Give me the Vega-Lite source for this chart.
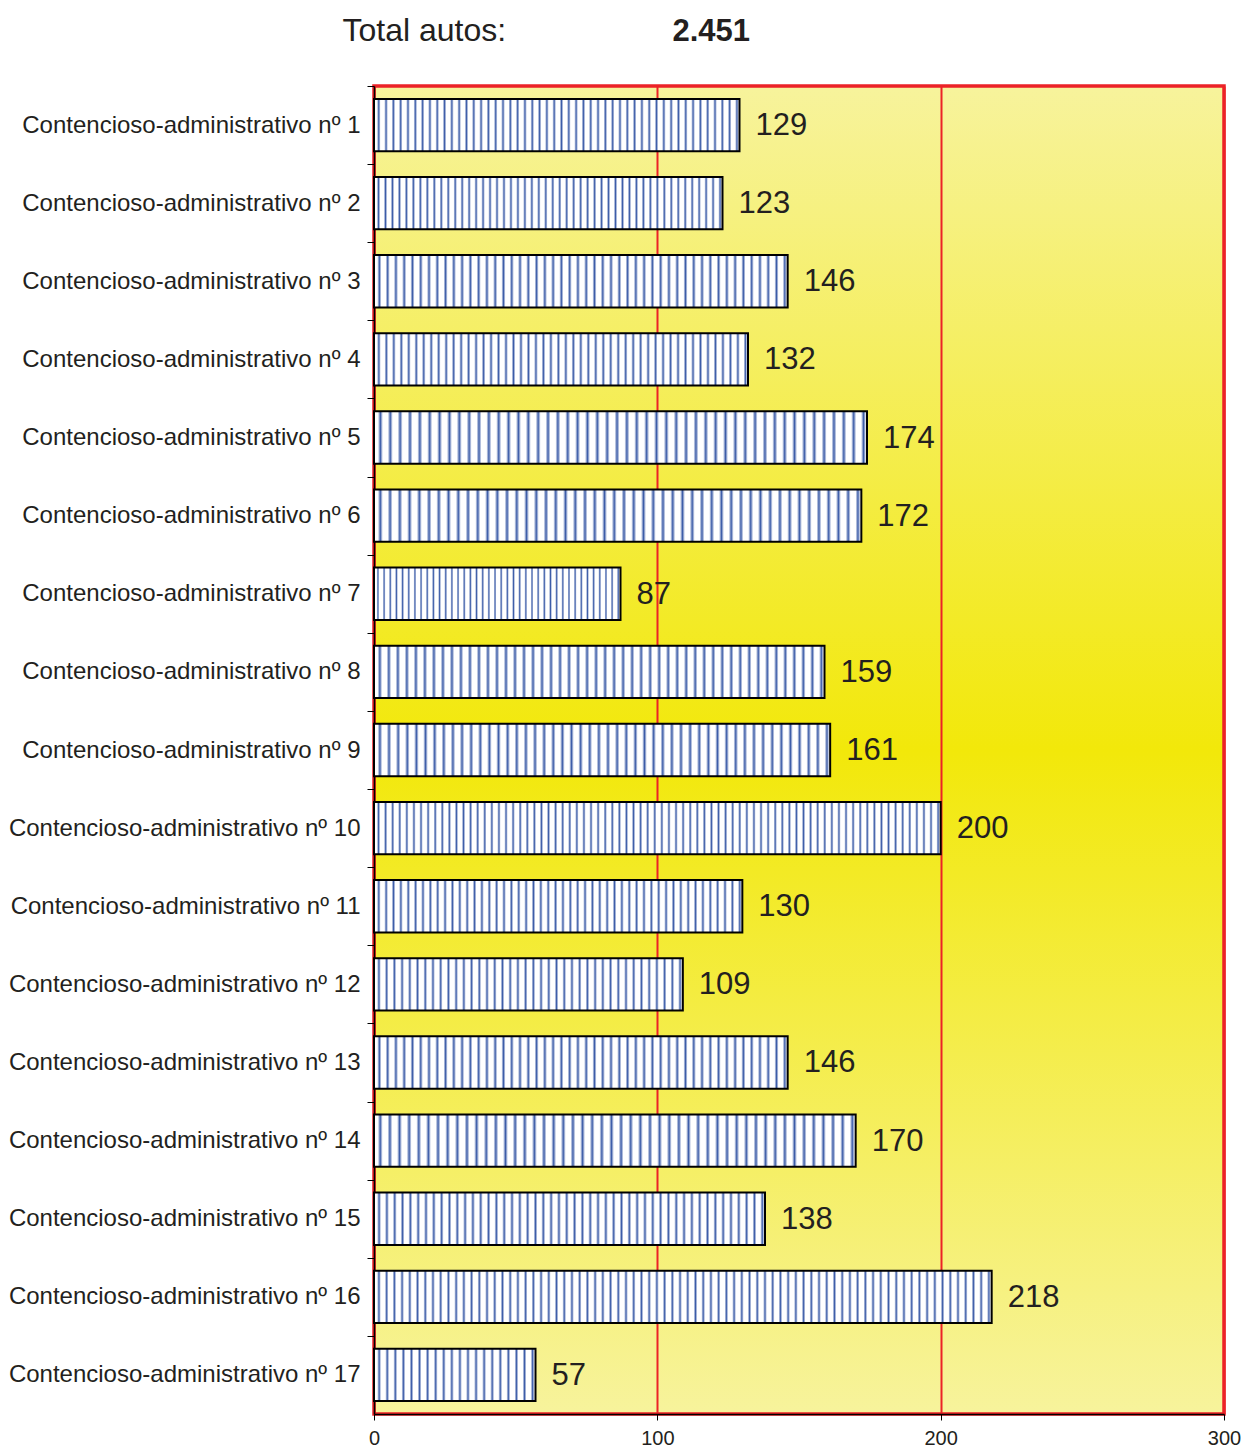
{
  "$schema": "https://vega.github.io/schema/vega-lite/v6.json",
  "width": 850,
  "height": 1328,
  "autosize": {"type": "none"},
  "padding": {"left": 374, "top": 86, "right": 21, "bottom": 34},
  "background": "white",
  "data": {
    "values": [
      {"juzgado": "Contencioso-administrativo nº 1", "autos": 129},
      {"juzgado": "Contencioso-administrativo nº 2", "autos": 123},
      {"juzgado": "Contencioso-administrativo nº 3", "autos": 146},
      {"juzgado": "Contencioso-administrativo nº 4", "autos": 132},
      {"juzgado": "Contencioso-administrativo nº 5", "autos": 174},
      {"juzgado": "Contencioso-administrativo nº 6", "autos": 172},
      {"juzgado": "Contencioso-administrativo nº 7", "autos": 87},
      {"juzgado": "Contencioso-administrativo nº 8", "autos": 159},
      {"juzgado": "Contencioso-administrativo nº 9", "autos": 161},
      {"juzgado": "Contencioso-administrativo nº 10", "autos": 200},
      {"juzgado": "Contencioso-administrativo nº 11", "autos": 130},
      {"juzgado": "Contencioso-administrativo nº 12", "autos": 109},
      {"juzgado": "Contencioso-administrativo nº 13", "autos": 146},
      {"juzgado": "Contencioso-administrativo nº 14", "autos": 170},
      {"juzgado": "Contencioso-administrativo nº 15", "autos": 138},
      {"juzgado": "Contencioso-administrativo nº 16", "autos": 218},
      {"juzgado": "Contencioso-administrativo nº 17", "autos": 57}
    ]
  },
  "encoding": {
    "y": {
      "field": "juzgado",
      "type": "nominal",
      "sort": null,
      "scale": {
        "domain": [
          "Contencioso-administrativo nº 1", "Contencioso-administrativo nº 2", "Contencioso-administrativo nº 3",
          "Contencioso-administrativo nº 4", "Contencioso-administrativo nº 5", "Contencioso-administrativo nº 6",
          "Contencioso-administrativo nº 7", "Contencioso-administrativo nº 8", "Contencioso-administrativo nº 9",
          "Contencioso-administrativo nº 10", "Contencioso-administrativo nº 11", "Contencioso-administrativo nº 12",
          "Contencioso-administrativo nº 13", "Contencioso-administrativo nº 14", "Contencioso-administrativo nº 15",
          "Contencioso-administrativo nº 16", "Contencioso-administrativo nº 17"
        ],
        "paddingInner": 0.33,
        "paddingOuter": 0.165
      },
      "axis": {
        "title": "Total autos:",
        "titleAngle": 0,
        "titleX": -32,
        "titleY": -46,
        "titleAlign": "left",
        "titleBaseline": "alphabetic",
        "titleFontSize": 32,
        "titleFontWeight": "normal",
        "titleColor": "#231F20",
        "labelFontSize": 24,
        "labelColor": "#231F20",
        "labelPadding": 7,
        "labelLimit": 400,
        "tickSize": 7,
        "tickColor": "black",
        "tickWidth": 1,
        "tickOffset": -39.06,
        "labelOffset": 39.06,
        "domainColor": "black",
        "domainWidth": 1.5,
        "grid": false
      }
    }
  },
  "layer": [
    {
      "transform": [{"filter": "datum.autos < 80"}],
      "mark": {
        "type": "bar",
        "stroke": "black",
        "strokeWidth": 2,
        "fill": {
          "gradient": "linear",
          "x1": 0, "y1": 0, "x2": 1, "y2": 0,
          "stops": [
            {"offset": 0.020, "color": "#fff"}, {"offset": 0.032, "color": "#3c5ca8"}, {"offset": 0.044, "color": "#fff"},
            {"offset": 0.070, "color": "#fff"}, {"offset": 0.082, "color": "#3c5ca8"}, {"offset": 0.094, "color": "#fff"},
            {"offset": 0.120, "color": "#fff"}, {"offset": 0.132, "color": "#3c5ca8"}, {"offset": 0.144, "color": "#fff"},
            {"offset": 0.170, "color": "#fff"}, {"offset": 0.182, "color": "#3c5ca8"}, {"offset": 0.194, "color": "#fff"},
            {"offset": 0.220, "color": "#fff"}, {"offset": 0.232, "color": "#3c5ca8"}, {"offset": 0.244, "color": "#fff"},
            {"offset": 0.270, "color": "#fff"}, {"offset": 0.282, "color": "#3c5ca8"}, {"offset": 0.294, "color": "#fff"},
            {"offset": 0.320, "color": "#fff"}, {"offset": 0.332, "color": "#3c5ca8"}, {"offset": 0.344, "color": "#fff"},
            {"offset": 0.370, "color": "#fff"}, {"offset": 0.382, "color": "#3c5ca8"}, {"offset": 0.394, "color": "#fff"},
            {"offset": 0.420, "color": "#fff"}, {"offset": 0.432, "color": "#3c5ca8"}, {"offset": 0.444, "color": "#fff"},
            {"offset": 0.470, "color": "#fff"}, {"offset": 0.482, "color": "#3c5ca8"}, {"offset": 0.494, "color": "#fff"},
            {"offset": 0.520, "color": "#fff"}, {"offset": 0.532, "color": "#3c5ca8"}, {"offset": 0.544, "color": "#fff"},
            {"offset": 0.570, "color": "#fff"}, {"offset": 0.582, "color": "#3c5ca8"}, {"offset": 0.594, "color": "#fff"},
            {"offset": 0.620, "color": "#fff"}, {"offset": 0.632, "color": "#3c5ca8"}, {"offset": 0.644, "color": "#fff"},
            {"offset": 0.670, "color": "#fff"}, {"offset": 0.682, "color": "#3c5ca8"}, {"offset": 0.694, "color": "#fff"},
            {"offset": 0.720, "color": "#fff"}, {"offset": 0.732, "color": "#3c5ca8"}, {"offset": 0.744, "color": "#fff"},
            {"offset": 0.770, "color": "#fff"}, {"offset": 0.782, "color": "#3c5ca8"}, {"offset": 0.794, "color": "#fff"},
            {"offset": 0.820, "color": "#fff"}, {"offset": 0.832, "color": "#3c5ca8"}, {"offset": 0.844, "color": "#fff"},
            {"offset": 0.870, "color": "#fff"}, {"offset": 0.882, "color": "#3c5ca8"}, {"offset": 0.894, "color": "#fff"},
            {"offset": 0.920, "color": "#fff"}, {"offset": 0.932, "color": "#3c5ca8"}, {"offset": 0.944, "color": "#fff"},
            {"offset": 0.970, "color": "#fff"}, {"offset": 0.982, "color": "#3c5ca8"}, {"offset": 0.994, "color": "#fff"}
          ]
        }
      },
      "encoding": {
        "x": {
          "field": "autos",
          "type": "quantitative",
          "scale": {"domain": [0, 300], "nice": false, "zero": true},
          "axis": {
            "orient": "bottom",
            "title": null,
            "values": [0, 100, 200, 300],
            "grid": true,
            "gridColor": "#EC2227",
            "gridWidth": 2,
            "domainColor": "black",
            "domainWidth": 1.5,
            "tickColor": "black",
            "tickSize": 6,
            "tickWidth": 1,
            "labelFontSize": 20,
            "labelColor": "#231F20",
            "labelPadding": 8,
            "labelFlush": false
          }
        }
      }
    },
    {
      "transform": [{"filter": "datum.autos >= 80 && datum.autos < 120"}],
      "mark": {
        "type": "bar",
        "stroke": "black",
        "strokeWidth": 2,
        "fill": {
          "gradient": "linear",
          "x1": 0, "y1": 0, "x2": 1, "y2": 0,
          "stops": [
            {"offset": 0.010, "color": "#fff"}, {"offset": 0.016, "color": "#3c5ca8"}, {"offset": 0.022, "color": "#fff"},
            {"offset": 0.035, "color": "#fff"}, {"offset": 0.041, "color": "#3c5ca8"}, {"offset": 0.047, "color": "#fff"},
            {"offset": 0.060, "color": "#fff"}, {"offset": 0.066, "color": "#3c5ca8"}, {"offset": 0.072, "color": "#fff"},
            {"offset": 0.085, "color": "#fff"}, {"offset": 0.091, "color": "#3c5ca8"}, {"offset": 0.097, "color": "#fff"},
            {"offset": 0.110, "color": "#fff"}, {"offset": 0.116, "color": "#3c5ca8"}, {"offset": 0.122, "color": "#fff"},
            {"offset": 0.135, "color": "#fff"}, {"offset": 0.141, "color": "#3c5ca8"}, {"offset": 0.147, "color": "#fff"},
            {"offset": 0.160, "color": "#fff"}, {"offset": 0.166, "color": "#3c5ca8"}, {"offset": 0.172, "color": "#fff"},
            {"offset": 0.185, "color": "#fff"}, {"offset": 0.191, "color": "#3c5ca8"}, {"offset": 0.197, "color": "#fff"},
            {"offset": 0.210, "color": "#fff"}, {"offset": 0.216, "color": "#3c5ca8"}, {"offset": 0.222, "color": "#fff"},
            {"offset": 0.235, "color": "#fff"}, {"offset": 0.241, "color": "#3c5ca8"}, {"offset": 0.247, "color": "#fff"},
            {"offset": 0.260, "color": "#fff"}, {"offset": 0.266, "color": "#3c5ca8"}, {"offset": 0.272, "color": "#fff"},
            {"offset": 0.285, "color": "#fff"}, {"offset": 0.291, "color": "#3c5ca8"}, {"offset": 0.297, "color": "#fff"},
            {"offset": 0.310, "color": "#fff"}, {"offset": 0.316, "color": "#3c5ca8"}, {"offset": 0.322, "color": "#fff"},
            {"offset": 0.335, "color": "#fff"}, {"offset": 0.341, "color": "#3c5ca8"}, {"offset": 0.347, "color": "#fff"},
            {"offset": 0.360, "color": "#fff"}, {"offset": 0.366, "color": "#3c5ca8"}, {"offset": 0.372, "color": "#fff"},
            {"offset": 0.385, "color": "#fff"}, {"offset": 0.391, "color": "#3c5ca8"}, {"offset": 0.397, "color": "#fff"},
            {"offset": 0.410, "color": "#fff"}, {"offset": 0.416, "color": "#3c5ca8"}, {"offset": 0.422, "color": "#fff"},
            {"offset": 0.435, "color": "#fff"}, {"offset": 0.441, "color": "#3c5ca8"}, {"offset": 0.447, "color": "#fff"},
            {"offset": 0.460, "color": "#fff"}, {"offset": 0.466, "color": "#3c5ca8"}, {"offset": 0.472, "color": "#fff"},
            {"offset": 0.485, "color": "#fff"}, {"offset": 0.491, "color": "#3c5ca8"}, {"offset": 0.497, "color": "#fff"},
            {"offset": 0.510, "color": "#fff"}, {"offset": 0.516, "color": "#3c5ca8"}, {"offset": 0.522, "color": "#fff"},
            {"offset": 0.535, "color": "#fff"}, {"offset": 0.541, "color": "#3c5ca8"}, {"offset": 0.547, "color": "#fff"},
            {"offset": 0.560, "color": "#fff"}, {"offset": 0.566, "color": "#3c5ca8"}, {"offset": 0.572, "color": "#fff"},
            {"offset": 0.585, "color": "#fff"}, {"offset": 0.591, "color": "#3c5ca8"}, {"offset": 0.597, "color": "#fff"},
            {"offset": 0.610, "color": "#fff"}, {"offset": 0.616, "color": "#3c5ca8"}, {"offset": 0.622, "color": "#fff"},
            {"offset": 0.635, "color": "#fff"}, {"offset": 0.641, "color": "#3c5ca8"}, {"offset": 0.647, "color": "#fff"},
            {"offset": 0.660, "color": "#fff"}, {"offset": 0.666, "color": "#3c5ca8"}, {"offset": 0.672, "color": "#fff"},
            {"offset": 0.685, "color": "#fff"}, {"offset": 0.691, "color": "#3c5ca8"}, {"offset": 0.697, "color": "#fff"},
            {"offset": 0.710, "color": "#fff"}, {"offset": 0.716, "color": "#3c5ca8"}, {"offset": 0.722, "color": "#fff"},
            {"offset": 0.735, "color": "#fff"}, {"offset": 0.741, "color": "#3c5ca8"}, {"offset": 0.747, "color": "#fff"},
            {"offset": 0.760, "color": "#fff"}, {"offset": 0.766, "color": "#3c5ca8"}, {"offset": 0.772, "color": "#fff"},
            {"offset": 0.785, "color": "#fff"}, {"offset": 0.791, "color": "#3c5ca8"}, {"offset": 0.797, "color": "#fff"},
            {"offset": 0.810, "color": "#fff"}, {"offset": 0.816, "color": "#3c5ca8"}, {"offset": 0.822, "color": "#fff"},
            {"offset": 0.835, "color": "#fff"}, {"offset": 0.841, "color": "#3c5ca8"}, {"offset": 0.847, "color": "#fff"},
            {"offset": 0.860, "color": "#fff"}, {"offset": 0.866, "color": "#3c5ca8"}, {"offset": 0.872, "color": "#fff"},
            {"offset": 0.885, "color": "#fff"}, {"offset": 0.891, "color": "#3c5ca8"}, {"offset": 0.897, "color": "#fff"},
            {"offset": 0.910, "color": "#fff"}, {"offset": 0.916, "color": "#3c5ca8"}, {"offset": 0.922, "color": "#fff"},
            {"offset": 0.935, "color": "#fff"}, {"offset": 0.941, "color": "#3c5ca8"}, {"offset": 0.947, "color": "#fff"},
            {"offset": 0.960, "color": "#fff"}, {"offset": 0.966, "color": "#3c5ca8"}, {"offset": 0.972, "color": "#fff"},
            {"offset": 0.985, "color": "#fff"}, {"offset": 0.991, "color": "#3c5ca8"}, {"offset": 0.997, "color": "#fff"}
          ]
        }
      },
      "encoding": {
        "x": {
          "field": "autos",
          "type": "quantitative",
          "scale": {"domain": [0, 300], "nice": false, "zero": true},
          "axis": null
        }
      }
    },
    {
      "transform": [{"filter": "datum.autos >= 120 && datum.autos < 185"}],
      "mark": {
        "type": "bar",
        "stroke": "black",
        "strokeWidth": 2,
        "fill": {
          "gradient": "linear",
          "x1": 0, "y1": 0, "x2": 1, "y2": 0,
          "stops": [
            {"offset": 0.008, "color": "#fff"}, {"offset": 0.013, "color": "#3c5ca8"}, {"offset": 0.018, "color": "#fff"},
            {"offset": 0.028, "color": "#fff"}, {"offset": 0.033, "color": "#3c5ca8"}, {"offset": 0.038, "color": "#fff"},
            {"offset": 0.048, "color": "#fff"}, {"offset": 0.053, "color": "#3c5ca8"}, {"offset": 0.058, "color": "#fff"},
            {"offset": 0.068, "color": "#fff"}, {"offset": 0.073, "color": "#3c5ca8"}, {"offset": 0.078, "color": "#fff"},
            {"offset": 0.088, "color": "#fff"}, {"offset": 0.093, "color": "#3c5ca8"}, {"offset": 0.098, "color": "#fff"},
            {"offset": 0.108, "color": "#fff"}, {"offset": 0.113, "color": "#3c5ca8"}, {"offset": 0.118, "color": "#fff"},
            {"offset": 0.128, "color": "#fff"}, {"offset": 0.133, "color": "#3c5ca8"}, {"offset": 0.138, "color": "#fff"},
            {"offset": 0.148, "color": "#fff"}, {"offset": 0.153, "color": "#3c5ca8"}, {"offset": 0.158, "color": "#fff"},
            {"offset": 0.168, "color": "#fff"}, {"offset": 0.173, "color": "#3c5ca8"}, {"offset": 0.178, "color": "#fff"},
            {"offset": 0.188, "color": "#fff"}, {"offset": 0.193, "color": "#3c5ca8"}, {"offset": 0.198, "color": "#fff"},
            {"offset": 0.208, "color": "#fff"}, {"offset": 0.213, "color": "#3c5ca8"}, {"offset": 0.218, "color": "#fff"},
            {"offset": 0.228, "color": "#fff"}, {"offset": 0.233, "color": "#3c5ca8"}, {"offset": 0.238, "color": "#fff"},
            {"offset": 0.248, "color": "#fff"}, {"offset": 0.253, "color": "#3c5ca8"}, {"offset": 0.258, "color": "#fff"},
            {"offset": 0.268, "color": "#fff"}, {"offset": 0.273, "color": "#3c5ca8"}, {"offset": 0.278, "color": "#fff"},
            {"offset": 0.288, "color": "#fff"}, {"offset": 0.293, "color": "#3c5ca8"}, {"offset": 0.298, "color": "#fff"},
            {"offset": 0.308, "color": "#fff"}, {"offset": 0.313, "color": "#3c5ca8"}, {"offset": 0.318, "color": "#fff"},
            {"offset": 0.328, "color": "#fff"}, {"offset": 0.333, "color": "#3c5ca8"}, {"offset": 0.338, "color": "#fff"},
            {"offset": 0.348, "color": "#fff"}, {"offset": 0.353, "color": "#3c5ca8"}, {"offset": 0.358, "color": "#fff"},
            {"offset": 0.368, "color": "#fff"}, {"offset": 0.373, "color": "#3c5ca8"}, {"offset": 0.378, "color": "#fff"},
            {"offset": 0.388, "color": "#fff"}, {"offset": 0.393, "color": "#3c5ca8"}, {"offset": 0.398, "color": "#fff"},
            {"offset": 0.408, "color": "#fff"}, {"offset": 0.413, "color": "#3c5ca8"}, {"offset": 0.418, "color": "#fff"},
            {"offset": 0.428, "color": "#fff"}, {"offset": 0.433, "color": "#3c5ca8"}, {"offset": 0.438, "color": "#fff"},
            {"offset": 0.448, "color": "#fff"}, {"offset": 0.453, "color": "#3c5ca8"}, {"offset": 0.458, "color": "#fff"},
            {"offset": 0.468, "color": "#fff"}, {"offset": 0.473, "color": "#3c5ca8"}, {"offset": 0.478, "color": "#fff"},
            {"offset": 0.488, "color": "#fff"}, {"offset": 0.493, "color": "#3c5ca8"}, {"offset": 0.498, "color": "#fff"},
            {"offset": 0.508, "color": "#fff"}, {"offset": 0.513, "color": "#3c5ca8"}, {"offset": 0.518, "color": "#fff"},
            {"offset": 0.528, "color": "#fff"}, {"offset": 0.533, "color": "#3c5ca8"}, {"offset": 0.538, "color": "#fff"},
            {"offset": 0.548, "color": "#fff"}, {"offset": 0.553, "color": "#3c5ca8"}, {"offset": 0.558, "color": "#fff"},
            {"offset": 0.568, "color": "#fff"}, {"offset": 0.573, "color": "#3c5ca8"}, {"offset": 0.578, "color": "#fff"},
            {"offset": 0.588, "color": "#fff"}, {"offset": 0.593, "color": "#3c5ca8"}, {"offset": 0.598, "color": "#fff"},
            {"offset": 0.608, "color": "#fff"}, {"offset": 0.613, "color": "#3c5ca8"}, {"offset": 0.618, "color": "#fff"},
            {"offset": 0.628, "color": "#fff"}, {"offset": 0.633, "color": "#3c5ca8"}, {"offset": 0.638, "color": "#fff"},
            {"offset": 0.648, "color": "#fff"}, {"offset": 0.653, "color": "#3c5ca8"}, {"offset": 0.658, "color": "#fff"},
            {"offset": 0.668, "color": "#fff"}, {"offset": 0.673, "color": "#3c5ca8"}, {"offset": 0.678, "color": "#fff"},
            {"offset": 0.688, "color": "#fff"}, {"offset": 0.693, "color": "#3c5ca8"}, {"offset": 0.698, "color": "#fff"},
            {"offset": 0.708, "color": "#fff"}, {"offset": 0.713, "color": "#3c5ca8"}, {"offset": 0.718, "color": "#fff"},
            {"offset": 0.728, "color": "#fff"}, {"offset": 0.733, "color": "#3c5ca8"}, {"offset": 0.738, "color": "#fff"},
            {"offset": 0.748, "color": "#fff"}, {"offset": 0.753, "color": "#3c5ca8"}, {"offset": 0.758, "color": "#fff"},
            {"offset": 0.768, "color": "#fff"}, {"offset": 0.773, "color": "#3c5ca8"}, {"offset": 0.778, "color": "#fff"},
            {"offset": 0.788, "color": "#fff"}, {"offset": 0.793, "color": "#3c5ca8"}, {"offset": 0.798, "color": "#fff"},
            {"offset": 0.808, "color": "#fff"}, {"offset": 0.813, "color": "#3c5ca8"}, {"offset": 0.818, "color": "#fff"},
            {"offset": 0.828, "color": "#fff"}, {"offset": 0.833, "color": "#3c5ca8"}, {"offset": 0.838, "color": "#fff"},
            {"offset": 0.848, "color": "#fff"}, {"offset": 0.853, "color": "#3c5ca8"}, {"offset": 0.858, "color": "#fff"},
            {"offset": 0.868, "color": "#fff"}, {"offset": 0.873, "color": "#3c5ca8"}, {"offset": 0.878, "color": "#fff"},
            {"offset": 0.888, "color": "#fff"}, {"offset": 0.893, "color": "#3c5ca8"}, {"offset": 0.898, "color": "#fff"},
            {"offset": 0.908, "color": "#fff"}, {"offset": 0.913, "color": "#3c5ca8"}, {"offset": 0.918, "color": "#fff"},
            {"offset": 0.928, "color": "#fff"}, {"offset": 0.933, "color": "#3c5ca8"}, {"offset": 0.938, "color": "#fff"},
            {"offset": 0.948, "color": "#fff"}, {"offset": 0.953, "color": "#3c5ca8"}, {"offset": 0.958, "color": "#fff"},
            {"offset": 0.968, "color": "#fff"}, {"offset": 0.973, "color": "#3c5ca8"}, {"offset": 0.978, "color": "#fff"},
            {"offset": 0.988, "color": "#fff"}, {"offset": 0.993, "color": "#3c5ca8"}, {"offset": 0.998, "color": "#fff"}
          ]
        }
      },
      "encoding": {
        "x": {
          "field": "autos",
          "type": "quantitative",
          "scale": {"domain": [0, 300], "nice": false, "zero": true},
          "axis": null
        }
      }
    },
    {
      "transform": [{"filter": "datum.autos >= 185"}],
      "mark": {
        "type": "bar",
        "stroke": "black",
        "strokeWidth": 2,
        "fill": {
          "gradient": "linear",
          "x1": 0, "y1": 0, "x2": 1, "y2": 0,
          "stops": [
            {"offset": 0.005, "color": "#fff"}, {"offset": 0.008, "color": "#3c5ca8"}, {"offset": 0.011, "color": "#fff"},
            {"offset": 0.0175, "color": "#fff"}, {"offset": 0.0205, "color": "#3c5ca8"}, {"offset": 0.0235, "color": "#fff"},
            {"offset": 0.030, "color": "#fff"}, {"offset": 0.033, "color": "#3c5ca8"}, {"offset": 0.036, "color": "#fff"},
            {"offset": 0.0425, "color": "#fff"}, {"offset": 0.0455, "color": "#3c5ca8"}, {"offset": 0.0485, "color": "#fff"},
            {"offset": 0.055, "color": "#fff"}, {"offset": 0.058, "color": "#3c5ca8"}, {"offset": 0.061, "color": "#fff"},
            {"offset": 0.0675, "color": "#fff"}, {"offset": 0.0705, "color": "#3c5ca8"}, {"offset": 0.0735, "color": "#fff"},
            {"offset": 0.080, "color": "#fff"}, {"offset": 0.083, "color": "#3c5ca8"}, {"offset": 0.086, "color": "#fff"},
            {"offset": 0.0925, "color": "#fff"}, {"offset": 0.0955, "color": "#3c5ca8"}, {"offset": 0.0985, "color": "#fff"},
            {"offset": 0.105, "color": "#fff"}, {"offset": 0.108, "color": "#3c5ca8"}, {"offset": 0.111, "color": "#fff"},
            {"offset": 0.1175, "color": "#fff"}, {"offset": 0.1205, "color": "#3c5ca8"}, {"offset": 0.1235, "color": "#fff"},
            {"offset": 0.130, "color": "#fff"}, {"offset": 0.133, "color": "#3c5ca8"}, {"offset": 0.136, "color": "#fff"},
            {"offset": 0.1425, "color": "#fff"}, {"offset": 0.1455, "color": "#3c5ca8"}, {"offset": 0.1485, "color": "#fff"},
            {"offset": 0.155, "color": "#fff"}, {"offset": 0.158, "color": "#3c5ca8"}, {"offset": 0.161, "color": "#fff"},
            {"offset": 0.1675, "color": "#fff"}, {"offset": 0.1705, "color": "#3c5ca8"}, {"offset": 0.1735, "color": "#fff"},
            {"offset": 0.180, "color": "#fff"}, {"offset": 0.183, "color": "#3c5ca8"}, {"offset": 0.186, "color": "#fff"},
            {"offset": 0.1925, "color": "#fff"}, {"offset": 0.1955, "color": "#3c5ca8"}, {"offset": 0.1985, "color": "#fff"},
            {"offset": 0.205, "color": "#fff"}, {"offset": 0.208, "color": "#3c5ca8"}, {"offset": 0.211, "color": "#fff"},
            {"offset": 0.2175, "color": "#fff"}, {"offset": 0.2205, "color": "#3c5ca8"}, {"offset": 0.2235, "color": "#fff"},
            {"offset": 0.230, "color": "#fff"}, {"offset": 0.233, "color": "#3c5ca8"}, {"offset": 0.236, "color": "#fff"},
            {"offset": 0.2425, "color": "#fff"}, {"offset": 0.2455, "color": "#3c5ca8"}, {"offset": 0.2485, "color": "#fff"},
            {"offset": 0.255, "color": "#fff"}, {"offset": 0.258, "color": "#3c5ca8"}, {"offset": 0.261, "color": "#fff"},
            {"offset": 0.2675, "color": "#fff"}, {"offset": 0.2705, "color": "#3c5ca8"}, {"offset": 0.2735, "color": "#fff"},
            {"offset": 0.280, "color": "#fff"}, {"offset": 0.283, "color": "#3c5ca8"}, {"offset": 0.286, "color": "#fff"},
            {"offset": 0.2925, "color": "#fff"}, {"offset": 0.2955, "color": "#3c5ca8"}, {"offset": 0.2985, "color": "#fff"},
            {"offset": 0.305, "color": "#fff"}, {"offset": 0.308, "color": "#3c5ca8"}, {"offset": 0.311, "color": "#fff"},
            {"offset": 0.3175, "color": "#fff"}, {"offset": 0.3205, "color": "#3c5ca8"}, {"offset": 0.3235, "color": "#fff"},
            {"offset": 0.330, "color": "#fff"}, {"offset": 0.333, "color": "#3c5ca8"}, {"offset": 0.336, "color": "#fff"},
            {"offset": 0.3425, "color": "#fff"}, {"offset": 0.3455, "color": "#3c5ca8"}, {"offset": 0.3485, "color": "#fff"},
            {"offset": 0.355, "color": "#fff"}, {"offset": 0.358, "color": "#3c5ca8"}, {"offset": 0.361, "color": "#fff"},
            {"offset": 0.3675, "color": "#fff"}, {"offset": 0.3705, "color": "#3c5ca8"}, {"offset": 0.3735, "color": "#fff"},
            {"offset": 0.380, "color": "#fff"}, {"offset": 0.383, "color": "#3c5ca8"}, {"offset": 0.386, "color": "#fff"},
            {"offset": 0.3925, "color": "#fff"}, {"offset": 0.3955, "color": "#3c5ca8"}, {"offset": 0.3985, "color": "#fff"},
            {"offset": 0.405, "color": "#fff"}, {"offset": 0.408, "color": "#3c5ca8"}, {"offset": 0.411, "color": "#fff"},
            {"offset": 0.4175, "color": "#fff"}, {"offset": 0.4205, "color": "#3c5ca8"}, {"offset": 0.4235, "color": "#fff"},
            {"offset": 0.430, "color": "#fff"}, {"offset": 0.433, "color": "#3c5ca8"}, {"offset": 0.436, "color": "#fff"},
            {"offset": 0.4425, "color": "#fff"}, {"offset": 0.4455, "color": "#3c5ca8"}, {"offset": 0.4485, "color": "#fff"},
            {"offset": 0.455, "color": "#fff"}, {"offset": 0.458, "color": "#3c5ca8"}, {"offset": 0.461, "color": "#fff"},
            {"offset": 0.4675, "color": "#fff"}, {"offset": 0.4705, "color": "#3c5ca8"}, {"offset": 0.4735, "color": "#fff"},
            {"offset": 0.480, "color": "#fff"}, {"offset": 0.483, "color": "#3c5ca8"}, {"offset": 0.486, "color": "#fff"},
            {"offset": 0.4925, "color": "#fff"}, {"offset": 0.4955, "color": "#3c5ca8"}, {"offset": 0.4985, "color": "#fff"},
            {"offset": 0.505, "color": "#fff"}, {"offset": 0.508, "color": "#3c5ca8"}, {"offset": 0.511, "color": "#fff"},
            {"offset": 0.5175, "color": "#fff"}, {"offset": 0.5205, "color": "#3c5ca8"}, {"offset": 0.5235, "color": "#fff"},
            {"offset": 0.530, "color": "#fff"}, {"offset": 0.533, "color": "#3c5ca8"}, {"offset": 0.536, "color": "#fff"},
            {"offset": 0.5425, "color": "#fff"}, {"offset": 0.5455, "color": "#3c5ca8"}, {"offset": 0.5485, "color": "#fff"},
            {"offset": 0.555, "color": "#fff"}, {"offset": 0.558, "color": "#3c5ca8"}, {"offset": 0.561, "color": "#fff"},
            {"offset": 0.5675, "color": "#fff"}, {"offset": 0.5705, "color": "#3c5ca8"}, {"offset": 0.5735, "color": "#fff"},
            {"offset": 0.580, "color": "#fff"}, {"offset": 0.583, "color": "#3c5ca8"}, {"offset": 0.586, "color": "#fff"},
            {"offset": 0.5925, "color": "#fff"}, {"offset": 0.5955, "color": "#3c5ca8"}, {"offset": 0.5985, "color": "#fff"},
            {"offset": 0.605, "color": "#fff"}, {"offset": 0.608, "color": "#3c5ca8"}, {"offset": 0.611, "color": "#fff"},
            {"offset": 0.6175, "color": "#fff"}, {"offset": 0.6205, "color": "#3c5ca8"}, {"offset": 0.6235, "color": "#fff"},
            {"offset": 0.630, "color": "#fff"}, {"offset": 0.633, "color": "#3c5ca8"}, {"offset": 0.636, "color": "#fff"},
            {"offset": 0.6425, "color": "#fff"}, {"offset": 0.6455, "color": "#3c5ca8"}, {"offset": 0.6485, "color": "#fff"},
            {"offset": 0.655, "color": "#fff"}, {"offset": 0.658, "color": "#3c5ca8"}, {"offset": 0.661, "color": "#fff"},
            {"offset": 0.6675, "color": "#fff"}, {"offset": 0.6705, "color": "#3c5ca8"}, {"offset": 0.6735, "color": "#fff"},
            {"offset": 0.680, "color": "#fff"}, {"offset": 0.683, "color": "#3c5ca8"}, {"offset": 0.686, "color": "#fff"},
            {"offset": 0.6925, "color": "#fff"}, {"offset": 0.6955, "color": "#3c5ca8"}, {"offset": 0.6985, "color": "#fff"},
            {"offset": 0.705, "color": "#fff"}, {"offset": 0.708, "color": "#3c5ca8"}, {"offset": 0.711, "color": "#fff"},
            {"offset": 0.7175, "color": "#fff"}, {"offset": 0.7205, "color": "#3c5ca8"}, {"offset": 0.7235, "color": "#fff"},
            {"offset": 0.730, "color": "#fff"}, {"offset": 0.733, "color": "#3c5ca8"}, {"offset": 0.736, "color": "#fff"},
            {"offset": 0.7425, "color": "#fff"}, {"offset": 0.7455, "color": "#3c5ca8"}, {"offset": 0.7485, "color": "#fff"},
            {"offset": 0.755, "color": "#fff"}, {"offset": 0.758, "color": "#3c5ca8"}, {"offset": 0.761, "color": "#fff"},
            {"offset": 0.7675, "color": "#fff"}, {"offset": 0.7705, "color": "#3c5ca8"}, {"offset": 0.7735, "color": "#fff"},
            {"offset": 0.780, "color": "#fff"}, {"offset": 0.783, "color": "#3c5ca8"}, {"offset": 0.786, "color": "#fff"},
            {"offset": 0.7925, "color": "#fff"}, {"offset": 0.7955, "color": "#3c5ca8"}, {"offset": 0.7985, "color": "#fff"},
            {"offset": 0.805, "color": "#fff"}, {"offset": 0.808, "color": "#3c5ca8"}, {"offset": 0.811, "color": "#fff"},
            {"offset": 0.8175, "color": "#fff"}, {"offset": 0.8205, "color": "#3c5ca8"}, {"offset": 0.8235, "color": "#fff"},
            {"offset": 0.830, "color": "#fff"}, {"offset": 0.833, "color": "#3c5ca8"}, {"offset": 0.836, "color": "#fff"},
            {"offset": 0.8425, "color": "#fff"}, {"offset": 0.8455, "color": "#3c5ca8"}, {"offset": 0.8485, "color": "#fff"},
            {"offset": 0.855, "color": "#fff"}, {"offset": 0.858, "color": "#3c5ca8"}, {"offset": 0.861, "color": "#fff"},
            {"offset": 0.8675, "color": "#fff"}, {"offset": 0.8705, "color": "#3c5ca8"}, {"offset": 0.8735, "color": "#fff"},
            {"offset": 0.880, "color": "#fff"}, {"offset": 0.883, "color": "#3c5ca8"}, {"offset": 0.886, "color": "#fff"},
            {"offset": 0.8925, "color": "#fff"}, {"offset": 0.8955, "color": "#3c5ca8"}, {"offset": 0.8985, "color": "#fff"},
            {"offset": 0.905, "color": "#fff"}, {"offset": 0.908, "color": "#3c5ca8"}, {"offset": 0.911, "color": "#fff"},
            {"offset": 0.9175, "color": "#fff"}, {"offset": 0.9205, "color": "#3c5ca8"}, {"offset": 0.9235, "color": "#fff"},
            {"offset": 0.930, "color": "#fff"}, {"offset": 0.933, "color": "#3c5ca8"}, {"offset": 0.936, "color": "#fff"},
            {"offset": 0.9425, "color": "#fff"}, {"offset": 0.9455, "color": "#3c5ca8"}, {"offset": 0.9485, "color": "#fff"},
            {"offset": 0.955, "color": "#fff"}, {"offset": 0.958, "color": "#3c5ca8"}, {"offset": 0.961, "color": "#fff"},
            {"offset": 0.9675, "color": "#fff"}, {"offset": 0.9705, "color": "#3c5ca8"}, {"offset": 0.9735, "color": "#fff"},
            {"offset": 0.980, "color": "#fff"}, {"offset": 0.983, "color": "#3c5ca8"}, {"offset": 0.986, "color": "#fff"},
            {"offset": 0.9925, "color": "#fff"}, {"offset": 0.9955, "color": "#3c5ca8"}, {"offset": 0.9985, "color": "#fff"}
          ]
        }
      },
      "encoding": {
        "x": {
          "field": "autos",
          "type": "quantitative",
          "scale": {"domain": [0, 300], "nice": false, "zero": true},
          "axis": null
        }
      }
    },
    {
      "mark": {
        "type": "text",
        "align": "left",
        "baseline": "middle",
        "dx": 16,
        "dy": 1,
        "fontSize": 31,
        "color": "#231F20"
      },
      "encoding": {
        "x": {
          "field": "autos",
          "type": "quantitative",
          "scale": {"domain": [0, 300], "nice": false, "zero": true},
          "axis": {
            "orient": "top",
            "title": "2.451",
            "labels": false,
            "ticks": false,
            "domain": false,
            "grid": false,
            "titleX": 298,
            "titleY": -46,
            "titleAlign": "left",
            "titleBaseline": "alphabetic",
            "titleFontSize": 31,
            "titleFontWeight": "bold",
            "titleColor": "#231F20"
          }
        },
        "text": {"field": "autos", "type": "quantitative", "format": "d"}
      }
    }
  ],
  "resolve": {"axis": {"x": "independent"}},
  "config": {
    "font": "Liberation Sans",
    "view": {
      "stroke": "#EC2227",
      "strokeWidth": 3.5,
      "fill": {
        "gradient": "linear",
        "x1": 0, "y1": 0, "x2": 0, "y2": 1,
        "stops": [
          {"offset": 0, "color": "#F7F39C"},
          {"offset": 0.5, "color": "#F2E80A"},
          {"offset": 1, "color": "#F7F39C"}
        ]
      }
    }
  }
}
